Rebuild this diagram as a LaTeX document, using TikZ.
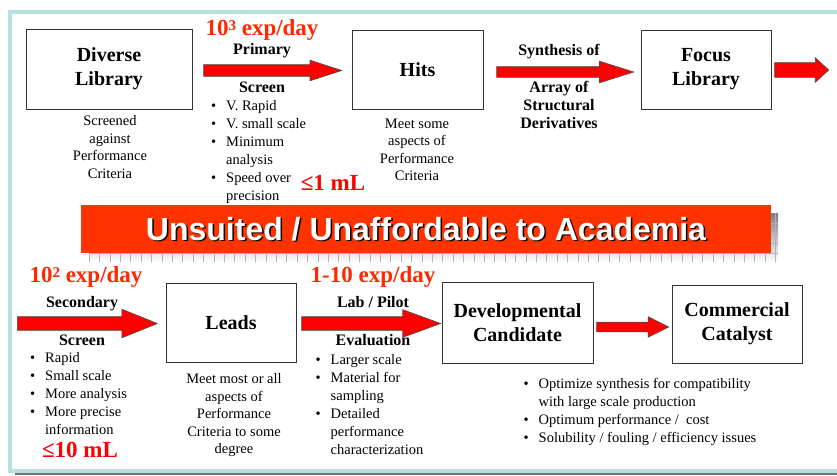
\documentclass[tikz,border=0pt]{standalone}
\usepackage{fontspec}
\setmainfont{Liberation Serif}
\newfontfamily\bannerfont{Liberation Sans}
\usepackage{tikz}
\usetikzlibrary{positioning, calc, shapes.arrows}
\definecolor{framebl}{RGB}{185,224,227}
\definecolor{bannerred}{RGB}{255,51,0}
\definecolor{ratered}{RGB}{255,40,0}
\definecolor{shade}{RGB}{196,196,196}
\tikzset{box/.style = {draw=black!80, line width=0.8pt, fill=white, align=center, inner sep=0pt,
                       font=\bfseries\fontsize{20}{24}\selectfont},
         note/.style = {align=center, inner sep=0pt, font=\fontsize{14.5}{17.5}\selectfont},
         items/.style = {align=left, inner sep=0pt, font=\fontsize{14.5}{18}\selectfont},
         lbl/.style = {align=center, inner sep=0pt, font=\bfseries\fontsize{16}{18}\selectfont},
         ratelbl/.style = {inner sep=0pt, text=ratered, font=\bfseries\fontsize{23}{26}\selectfont},
         vol/.style = {inner sep=0pt, text=red, font=\bfseries\fontsize{23}{26}\selectfont},
         bannertxt/.style = {inner sep=0pt, font=\bannerfont\bfseries\fontsize{32}{36}\selectfont},
         fatarrow/.style = {single arrow, draw=black!70, line width=0.6pt, fill=red,
                            inner xsep=0pt, minimum width=0pt, anchor=tail}}
\newcommand{\bul}{\makebox[15pt][l]{\textbullet}}
\newcommand{\nobul}{\hspace*{15pt}}
\newcommand{\pw}[1]{\raisebox{5pt}{\fontsize{15}{15}\selectfont #1}}

\begin{document}
\begin{tikzpicture}[x=1pt, y=-1pt]
            \useasboundingbox (0,0) rectangle (837,475);
            \clip (0,0) rectangle (837,475);
            \draw[framebl, line width=4pt] (10,11.5) rectangle (860,470.5);
            \draw[black!55, line width=2.5pt] (15,473.8) -- (860,473.8);

            \node[box, minimum width=166, minimum height=80] (lib) at (109,69) {Diverse\\Library};
            \node[box, minimum width=131, minimum height=79] (hits) at (417.5,69.5) {Hits};
            \node[box, minimum width=130, minimum height=79] (focus) at (706,69.5) {Focus\\Library};

            \node[fatarrow, minimum height=138, inner ysep=5.5, single arrow head extend=4.5,
                  single arrow tip angle=36] (a1) at ($(lib.east)+(11,1.5)$) {};
            \node[fatarrow, minimum height=137, inner ysep=5, single arrow head extend=5.5,
                  single arrow tip angle=35] (a2) at ($(hits.east)+(13,2.5)$) {};
            \node[fatarrow, minimum height=54, inner ysep=7, single arrow head extend=5,
                  single arrow tip angle=85] (a3) at ($(focus.east)+(3,0.5)$) {};

            \node[ratelbl, anchor=base] (r1) at (262,35) {10\pw{3} exp/day};
            \node[lbl, anchor=base] (primary) at (262,54) {Primary};
            \node[lbl, anchor=base] (screen1) at (262,92) {Screen};
            \node[items, anchor=north west] (list1) at (211,100)
                {\bul V. Rapid\\ \bul V. small scale\\ \bul Minimum\\ \nobul analysis\\ \bul Speed over\\ \nobul precision};
            \node[vol, anchor=base] (v1) at (333,190) {≤1 mL};
            \node[note, anchor=north] (libnote) at (110,115.5) {Screened\\against\\Performance\\Criteria};
            \node[note, anchor=north] (hitsnote) at (417,118.5) {Meet some\\aspects of\\Performance\\Criteria};
            \node[lbl, anchor=base] (synth) at (559,55) {Synthesis of};
            \node[lbl, anchor=north] (array) at (559,81.5) {Array of\\Structural\\Derivatives};

            \fill[shade] (89,213) rectangle (778,262);
            \foreach \gx in {89,99.4,...,778}
                \draw[black!30, line width=0.3pt] (\gx,213) -- (\gx,262);
            \foreach \gy in {223,233,243,253}
                \draw[black!30, line width=0.3pt] (89,\gy) -- (778,\gy);
            \fill[bannerred] (81,205) rectangle (771,253);
            \node[bannertxt, text=black] (bannersh) at (427.5,230.5) {Unsuited / Unaffordable to Academia};
            \node[bannertxt, text=white] (banner) at (426,229) {Unsuited / Unaffordable to Academia};

            \node[box, minimum width=130, minimum height=79] (leads) at (231,322.5) {Leads};
            \node[box, minimum width=151, minimum height=81] (dev) at (517.5,322.5) {Developmental\\Candidate};
            \node[box, minimum width=130, minimum height=78] (comm) at (737,324) {Commercial\\Catalyst};
            \coordinate (entry) at (17,323.5);

            \node[fatarrow, minimum height=140, inner ysep=6.5, single arrow head extend=7.5,
                  single arrow tip angle=44] (a4) at (entry) {};
            \node[fatarrow, minimum height=139, inner ysep=6.5, single arrow head extend=7,
                  single arrow tip angle=40] (a5) at ($(leads.east)+(5,1)$) {};
            \node[fatarrow, minimum height=72, inner ysep=4.5, single arrow head extend=5.5,
                  single arrow tip angle=53] (a6) at ($(dev.east)+(3,4.5)$) {};

            \node[ratelbl, anchor=base] (r2) at (86,282) {10\pw{2} exp/day};
            \node[lbl, anchor=base] (second) at (82,307) {Secondary};
            \node[lbl, anchor=base] (screen2) at (82,345) {Screen};
            \node[items, anchor=north west] (list2) at (30,352.5)
                {\bul Rapid\\ \bul Small scale\\ \bul More analysis\\ \bul More precise\\ \nobul information};
            \node[vol, anchor=base] (v2) at (80,457.5) {≤10 mL};
            \node[note, anchor=north] (leadsnote) at (234,373.5)
                {Meet most or all\\aspects of\\Performance\\Criteria to some\\degree};
            \node[ratelbl, anchor=base] (r3) at (373,282) {1-10 exp/day};
            \node[lbl, anchor=base] (pilot) at (373,307) {Lab / Pilot};
            \node[lbl, anchor=base] (eval) at (373,345) {Evaluation};
            \node[items, anchor=north west] (list3) at (315.5,354)
                {\bul Larger scale\\ \bul Material for\\ \nobul sampling\\ \bul Detailed\\ \nobul performance\\ \nobul characterization};
            \node[items, anchor=north west] (list4) at (523.5,378)
                {\bul Optimize synthesis for compatibility\\ \nobul with large scale production\\
                 \bul Optimum performance /~ cost\\ \bul Solubility / fouling / efficiency issues};
        \end{tikzpicture}
\end{document}
